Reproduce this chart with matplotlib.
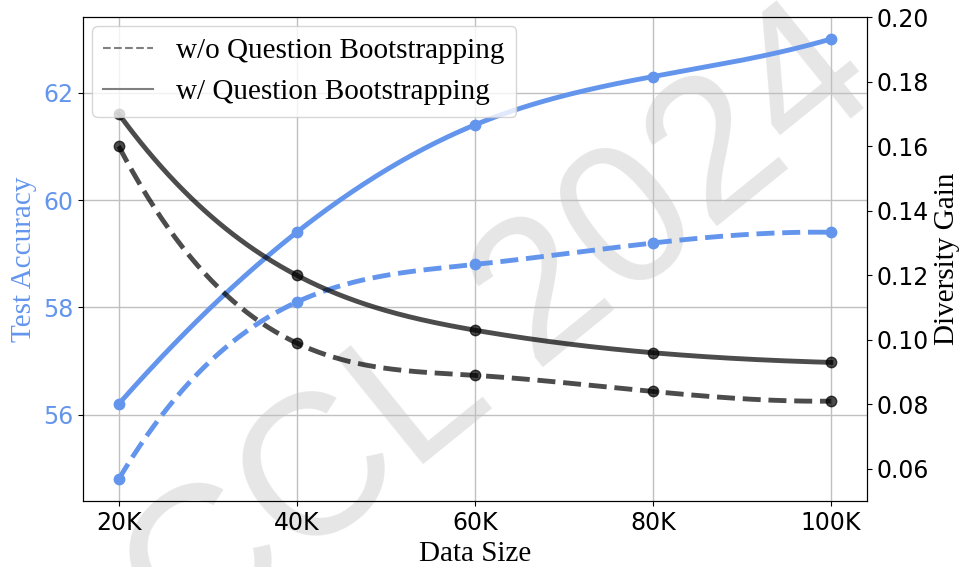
import numpy as np
import matplotlib
matplotlib.use("Agg")
import matplotlib.pyplot as plt
from matplotlib.lines import Line2D

# data
data_size = [20, 40, 60, 80, 100]
tick_labels = ['20K', '40K', '60K', '80K', '100K']
acc_wo = [54.8, 58.1, 58.8, 59.2, 59.4]
acc_w = [56.2, 59.4, 61.4, 62.3, 63.0]
div_wo = [0.160, 0.099, 0.089, 0.084, 0.081]
div_w = [0.170, 0.120, 0.103, 0.096, 0.093]

blue = '#6495ED'
serif = ['Liberation Serif', 'DejaVu Serif']


def smooth(x, y, n=300):
    # not-a-knot cubic spline through the points, for drawing only
    x = np.asarray(x, float)
    y = np.asarray(y, float)
    m = len(x) - 1
    A = np.zeros((4 * m, 4 * m))
    b = np.zeros(4 * m)
    r = 0
    for i in range(m):
        h = x[i + 1] - x[i]
        A[r, 4 * i] = 1
        b[r] = y[i]
        r += 1
        A[r, 4 * i:4 * i + 4] = [1, h, h ** 2, h ** 3]
        b[r] = y[i + 1]
        r += 1
    for i in range(m - 1):
        h = x[i + 1] - x[i]
        A[r, 4 * i:4 * i + 4] = [0, 1, 2 * h, 3 * h ** 2]
        A[r, 4 * (i + 1) + 1] = -1
        r += 1
        A[r, 4 * i:4 * i + 4] = [0, 0, 2, 6 * h]
        A[r, 4 * (i + 1) + 2] = -2
        r += 1
    A[r, 3] = 1
    A[r, 7] = -1
    r += 1
    A[r, 4 * (m - 2) + 3] = 1
    A[r, 4 * (m - 1) + 3] = -1
    coef = np.linalg.solve(A, b).reshape(m, 4)
    xs = np.linspace(x[0], x[-1], n)
    idx = np.clip(np.searchsorted(x, xs, side='right') - 1, 0, m - 1)
    t = xs - x[idx]
    c = coef[idx]
    return xs, c[:, 0] + c[:, 1] * t + c[:, 2] * t ** 2 + c[:, 3] * t ** 3


fig, ax = plt.subplots(figsize=(9.66, 5.67), dpi=100)
fig.subplots_adjust(left=0.086, right=0.897, top=0.970, bottom=0.116)
ax.set_facecolor('none')
ax2 = ax.twinx()
ax2.set_facecolor('none')

# watermark behind the axes
fig.text(0.52, 0.41, 'CCL 2024', rotation=39, fontsize=145, color='#e6e6e6',
         ha='center', va='center', zorder=-1, family='Liberation Sans')

# accuracy (left axis)
for ys, ls in [(acc_wo, '--'), (acc_w, '-')]:
    xs, yy = smooth(data_size, ys)
    ax.plot(xs, yy, color=blue, lw=3.5, ls=ls)
    ax.plot(data_size, ys, 'o', color=blue, ms=7.5)

# diversity gain (right axis)
for ys, ls in [(div_wo, '--'), (div_w, '-')]:
    xs, yy = smooth(data_size, ys)
    ax2.plot(xs, yy, color='black', alpha=0.7, lw=3.5, ls=ls)
    ax2.plot(data_size, ys, 'o', color='black', alpha=0.7, ms=7.5)

ax.set_xticks(data_size)
ax.set_xticklabels(tick_labels)
ax.set_yticks([56, 58, 60, 62])
ax2.set_ylim(0.05, 0.20)
ax2.set_yticks([0.06, 0.08, 0.10, 0.12, 0.14, 0.16, 0.18, 0.20])
ax2.set_yticklabels(['%.2f' % v for v in ax2.get_yticks()])

ax.grid(True, color='#c0c0c0', lw=1)
ax.set_axisbelow(True)
ax.tick_params(axis='x', labelsize=17)
ax.tick_params(axis='y', labelsize=17, labelcolor=blue)
ax2.tick_params(axis='y', labelsize=17)

ax.set_xlabel('Data Size', family=serif, fontsize=21, labelpad=4)
ax.set_ylabel('Test Accuracy', family=serif, fontsize=21, color=blue)
ax2.set_ylabel('Diversity Gain', family=serif, fontsize=21)

handles = [Line2D([], [], color='gray', lw=1.5, ls='--'),
           Line2D([], [], color='gray', lw=1.5, ls='-')]
leg = ax2.legend(handles, ['w/o Question Bootstrapping', 'w/ Question Bootstrapping'],
                 loc='upper left', borderaxespad=0.3, handlelength=1.7,
                 prop={'family': serif, 'size': 21})

fig.savefig('out.png', dpi=100)
